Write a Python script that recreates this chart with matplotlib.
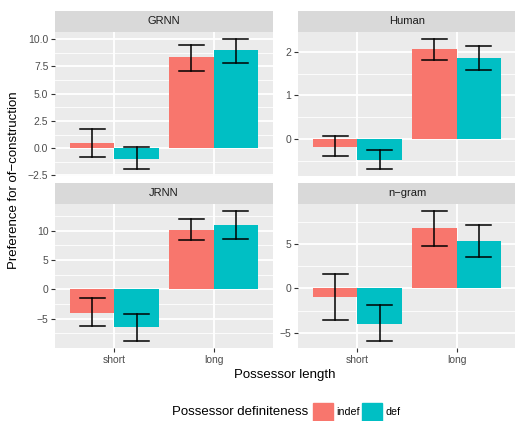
import matplotlib
matplotlib.use("Agg")
import matplotlib.pyplot as plt
import numpy as np

plt.rcParams['font.family'] = ['Liberation Sans', 'DejaVu Sans']

panels = ["GRNN", "Human", "JRNN", "n\u2212gram"]
lengths = ["short", "long"]
definiteness = ["indef", "def"]

# values[panel] = [[indef_short, indef_long], [def_short, def_long]]
grnn_vals = [[0.5, 8.35], [-1.0, 9.0]]
grnn_lo = [[-0.85, 7.1], [-1.95, 7.85]]
grnn_hi = [[1.8, 9.5], [0.1, 10.05]]

human_vals = [[-0.18, 2.05], [-0.48, 1.86]]
human_lo = [[-0.38, 1.8], [-0.69, 1.58]]
human_hi = [[0.07, 2.3], [-0.24, 2.12]]

jrnn_vals = [[-4.0, 10.1], [-6.5, 11.0]]
jrnn_lo = [[-6.35, 8.3], [-8.9, 8.5]]
jrnn_hi = [[-1.5, 12.0], [-4.3, 13.4]]

ngram_vals = [[-0.98, 6.9], [-4.02, 5.4]]
ngram_lo = [[-3.53, 4.81], [-6.0, 3.6]]
ngram_hi = [[1.6, 8.83], [-1.84, 7.16]]

grnn_ticks = [-2.5, 0.0, 2.5, 5.0, 7.5, 10.0]
grnn_ticklabels = ["\u22122.5", "0.0", "2.5", "5.0", "7.5", "10.0"]
human_ticks = [0, 1, 2]
human_ticklabels = ["0", "1", "2"]
jrnn_ticks = [-5, 0, 5, 10]
jrnn_ticklabels = ["\u22125", "0", "5", "10"]
ngram_ticks = [-5, 0, 5]
ngram_ticklabels = ["\u22125", "0", "5"]

data = [
    (grnn_vals, grnn_lo, grnn_hi, grnn_ticks, grnn_ticklabels),
    (human_vals, human_lo, human_hi, human_ticks, human_ticklabels),
    (jrnn_vals, jrnn_lo, jrnn_hi, jrnn_ticks, jrnn_ticklabels),
    (ngram_vals, ngram_lo, ngram_hi, ngram_ticks, ngram_ticklabels),
]

colors = ["#F8766D", "#00BFC4"]
W, H = 515, 421
fig = plt.figure(figsize=(W / 100, H / 100), dpi=100)

# pixel boxes
cols = [(55, 273), (298, 516)]
rows = [(11, 32, 176), (183, 204, 348)]

def fx(px):
    return px / W

def fy(py):
    return 1 - py / H

for i, (vals, lo, hi, ticks, tlabels) in enumerate(data):
    r, c = divmod(i, 2)
    x0, x1 = cols[c]
    st, pt, pb = rows[r]
    ax = fig.add_axes([fx(x0), fy(pb), fx(x1) - fx(x0), fy(pt) - fy(pb)])
    ax.set_facecolor("#EBEBEB")
    bw = 0.45
    xpos = np.arange(1, len(lengths) + 1)
    for j in range(2):
        xs = xpos + (j - 0.5) * bw
        ax.bar(xs, vals[j], width=bw, color=colors[j], zorder=3)
        for k in range(2):
            ax.plot([xs[k], xs[k]], [lo[j][k], hi[j][k]], color="black", lw=1.1, zorder=4)
            for yv in (lo[j][k], hi[j][k]):
                ax.plot([xs[k] - 0.125, xs[k] + 0.125], [yv, yv], color="black", lw=1.1, zorder=4)
    allv = np.array(lo + hi + vals).ravel()
    ymin = min(allv.min(), 0)
    ymax = max(allv.max(), 0)
    rng = ymax - ymin
    ax.set_yticks(ticks)
    ax.set_yticklabels(tlabels)
    step = ticks[1] - ticks[0]
    minor = np.arange(ticks[0] - step / 2, ticks[-1] + step, step)
    ax.set_yticks(minor, minor=True)
    ax.set_xticks(xpos)
    ax.set_ylim(ymin - 0.05 * rng, ymax + 0.05 * rng)
    ax.set_xlim(0.4, 2.6)
    ax.grid(True, which="major", color="white", lw=1.3, zorder=0)
    ax.grid(True, which="minor", axis="y", color="white", lw=0.6, zorder=0)
    ax.set_axisbelow(True)
    for s in ax.spines.values():
        s.set_visible(False)
    ax.tick_params(axis="y", which="major", length=2.8, width=0.8, color="#333333",
                   labelsize=7.5, labelcolor="#4D4D4D", pad=2)
    ax.tick_params(axis="y", which="minor", length=0)
    if r == 1:
        ax.set_xticklabels(lengths)
        ax.tick_params(axis="x", length=2.8, width=0.8, color="#333333",
                       labelsize=7.5, labelcolor="#4D4D4D", pad=2)
    else:
        ax.set_xticklabels([])
        ax.tick_params(axis="x", length=0)
    # strip
    sax = fig.add_axes([fx(x0), fy(pt), fx(x1) - fx(x0), fy(st) - fy(pt)])
    sax.set_facecolor("#D9D9D9")
    sax.set_xticks([])
    sax.set_yticks([])
    for s in sax.spines.values():
        s.set_visible(False)
    sax.text(0.5, 0.5, panels[i], ha="center", va="center", fontsize=8,
             color="#1A1A1A", transform=sax.transAxes)

fig.text(fx(285), fy(375), "Possessor length", ha="center", va="center",
         fontsize=9.5, color="black")
fig.text(fx(14), fy(180), "Preference for of\u2212construction", ha="center",
         va="center", rotation=90, fontsize=9.5, color="black")

# legend
fig.text(fx(172), fy(412), "Possessor definiteness", ha="left", va="center",
         fontsize=9.5, color="black")
key_x = [313, 362]
for j, lab in enumerate(definiteness):
    kx = key_x[j]
    fig.patches.append(matplotlib.patches.Rectangle(
        (fx(kx), fy(421)), fx(20), fy(403) - fy(421), transform=fig.transFigure,
        color=colors[j], zorder=3))
    fig.text(fx(kx + 23), fy(412), lab, ha="left", va="center", fontsize=7.7,
             color="black")

fig.savefig("out.png", dpi=100)
